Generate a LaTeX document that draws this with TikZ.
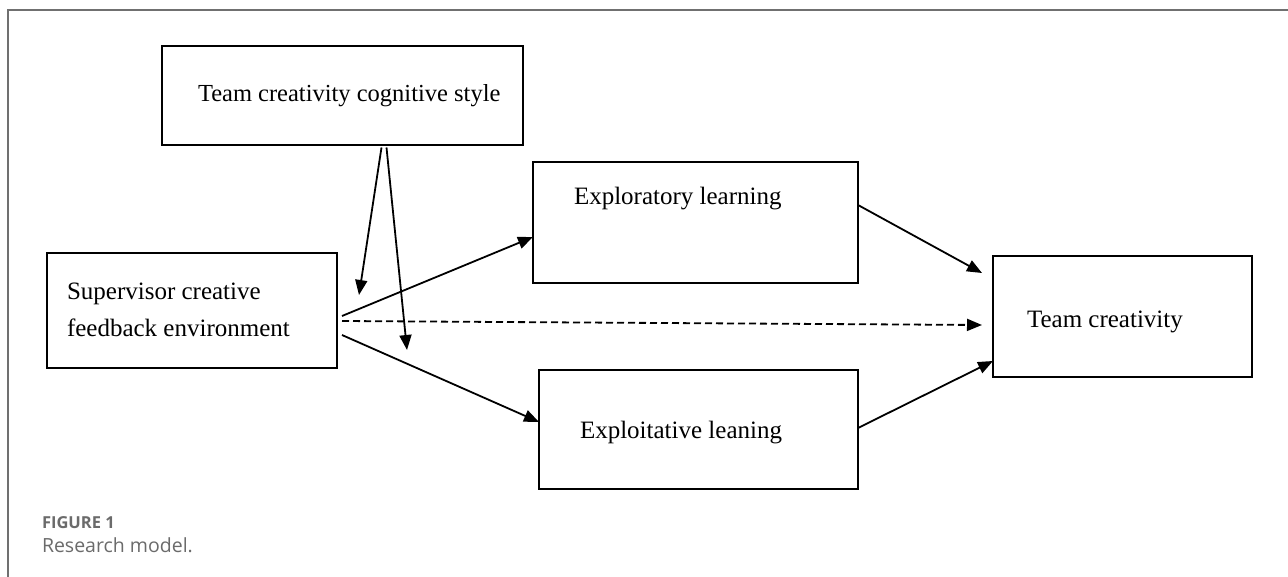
\documentclass[tikz,border=0pt]{standalone}
\usepackage{fontspec}
\setmainfont{Liberation Serif}
\newfontfamily\capfont{Open Sans}
\usetikzlibrary{arrows.meta,calc}
\definecolor{capgray}{HTML}{6B6B6B}
\definecolor{framegray}{HTML}{707070}
\begin{document}
\begin{tikzpicture}[x=1pt,y=-1pt,
  box/.style={draw=black, line width=1.8pt, inner sep=0pt, outer sep=0pt, rectangle},
  lbl/.style={inner sep=0pt, outer sep=0pt, anchor=base west, font=\fontsize{25}{30}\selectfont},
  conn/.style={line width=1.8pt, -{Triangle[length=15pt,width=12pt]}},
  dconn/.style={conn, dash pattern=on 7pt off 4pt},
  capstyle/.style={inner sep=0pt, outer sep=0pt, anchor=base west, text=capgray}
]
\useasboundingbox (0,0) rectangle (1288,577);
\fill[white] (0,0) rectangle (1288,577);
\draw[framegray, line width=1.5pt] (8,577) -- (8,10) -- (1288,10);

% boxes
\node[box, minimum width=361pt, minimum height=99pt] (cog) at (342.5,95.5) {};
\node[box, minimum width=290pt, minimum height=115pt] (sup) at (192,310.5) {};
\node[box, minimum width=325pt, minimum height=121pt] (expr) at (695.5,222.5) {};
\node[box, minimum width=319pt, minimum height=119pt] (expt) at (698.5,429.5) {};
\node[box, minimum width=259pt, minimum height=121pt] (tc) at (1122.5,316.5) {};

% texts
\node[lbl, font=\fontsize{24.5}{30}\selectfont] (cogt) at (198,102) {Team creativity cognitive style};
\node[lbl] (supt1) at (67,300) {Supervisor creative};
\node[lbl] (supt2) at (67,337) {feedback environment};
\node[lbl] (exprt) at (574,205) {Exploratory learning};
\node[lbl] (exptt) at (580,438) {Exploitative leaning};
\node[lbl] (tct) at (1027,327) {Team creativity};

% moderator arrow ends
\coordinate (m1) at (359,295);
\coordinate (m2) at (407,350);

% connectors
\draw[conn] ($(sup.east)+(5,5.5)$) -- ($(expr.west)+(0,14.5)$);
\draw[conn] ($(sup.east)+(5,24.5)$) -- ($(expt.west)+(0,-7.5)$);
\draw[dconn] ($(sup.east)+(5,10.5)$) -- ($(tc.west)+(-11,8.5)$);
\draw[conn] ($(expr.east)+(0,-17.5)$) -- ($(tc.west)+(-11,-43.5)$);
\draw[conn] ($(expt.east)+(0,-1.5)$) -- ($(tc.west)+(0,44.5)$);
\draw[conn] ($(cog.south)+(39,2.5)$) -- (m1);
\draw[conn] ($(cog.south)+(44,2.5)$) -- (m2);

% caption
\node[capstyle, font=\capfont\bfseries\fontsize{16.5}{20}\selectfont] (fig) at (42,528) {FIGURE 1};
\node[capstyle, font=\capfont\fontsize{19.5}{24}\selectfont] (cap) at (42,552) {Research model.};
\end{tikzpicture}
\end{document}
